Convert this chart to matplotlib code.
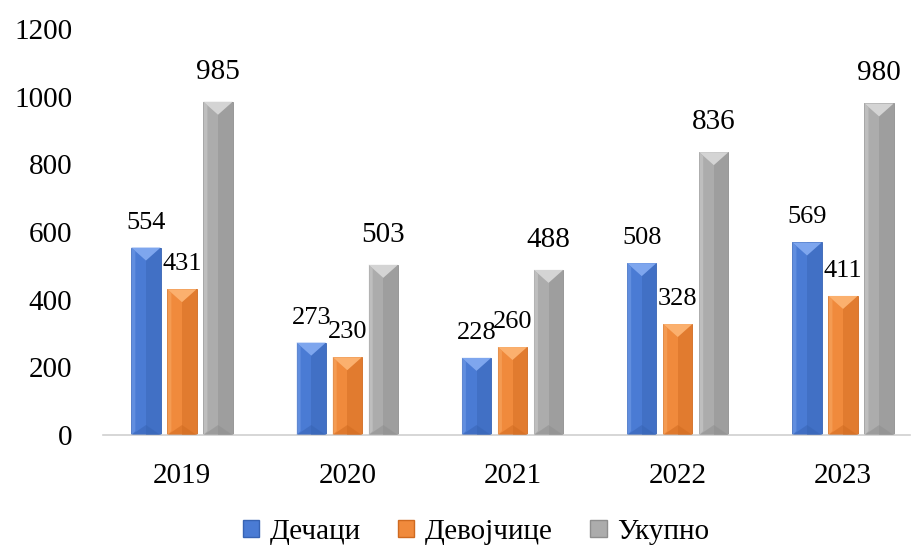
import numpy as np
import matplotlib.pyplot as plt
from matplotlib.patches import Polygon, Patch

plt.rcParams['font.family'] = ['Liberation Serif', 'DejaVu Serif']

years = ['2019', '2020', '2021', '2022', '2023']
boys = [554, 273, 228, 508, 569]
girls = [431, 230, 260, 328, 411]
total = [985, 503, 488, 836, 980]
names = ['Дечаци', 'Девојчице', 'Укупно']
colors = ['#4a7bd4', '#f08a3c', '#acacac']
lights = ['#7ea6ee', '#fbb06e', '#d4d4d4']
darks = ['#3763b3', '#cf6a20', '#8e8e8e']

fig = plt.figure(figsize=(9.11, 5.47), dpi=100)
ax = fig.add_axes([103 / 911, 1 - 435 / 547, 807 / 911, 406 / 547])

x = np.arange(len(years))
w = 0.177
step = 0.218
offs = [-step, 0, step]
ax.set_xlim(-0.478, 4.405)
ax.set_ylim(0, 1200)

# bevel sizes in data units (approx. pixels -> data)
px_x = 1 / 165.0
px_y = 1200 / 406.0


def bevel_bar(xc, h, k):
    x0, x1 = xc - w / 2, xc + w / 2
    ax.bar(xc, h, w, color=colors[k], edgecolor=darks[k], linewidth=0.6, zorder=2)
    # right darker half
    ax.add_patch(Polygon([[xc, 0], [x1, 0], [x1, h], [xc, h]],
                         closed=True, color=darks[k], alpha=0.45, lw=0, zorder=3))
    # left light strip
    ax.add_patch(Polygon([[x0, 0], [x0 + 4 * px_x, 4 * px_y],
                          [x0 + 4 * px_x, h - 4 * px_y], [x0, h]],
                         closed=True, color=lights[k], alpha=0.45, lw=0, zorder=4))
    # top light triangle
    ax.add_patch(Polygon([[x0, h], [x1, h], [xc, h - 13 * px_y]],
                         closed=True, color=lights[k], lw=0, zorder=4))
    # bottom dark wedge
    ax.add_patch(Polygon([[x0, 0], [x1, 0], [xc, 10 * px_y]],
                         closed=True, color=darks[k], alpha=0.5, lw=0, zorder=4))


for k, series in enumerate([boys, girls, total]):
    for i, v in enumerate(series):
        bevel_bar(x[i] + offs[k], v, k)
        fs = 21 if k == 2 else 19
        dy = 30 * px_y if k == 2 else 25 * px_y
        ax.text(x[i] + offs[k], v + dy, str(v), ha='center', va='center',
                fontsize=fs, zorder=5)

ax.set_xticks(x)
ax.set_xticklabels(years, fontsize=21)
ax.set_yticks(range(0, 1201, 200))
ax.tick_params(axis='y', labelsize=21, length=0, pad=22)
ax.tick_params(axis='x', length=0, pad=20)
for s in ['top', 'right', 'left']:
    ax.spines[s].set_visible(False)
ax.spines['bottom'].set_color('#d0d0d0')
ax.spines['bottom'].set_linewidth(1.2)

handles = [Patch(facecolor=colors[k], edgecolor=darks[k]) for k in range(3)]
fig.legend(handles, names, loc='center', bbox_to_anchor=(476 / 911, 1 - 532 / 547),
           ncol=3, frameon=False, fontsize=21, handlelength=0.55,
           handleheight=0.55, handletextpad=0.35, columnspacing=1.3)

fig.savefig('out.png', dpi=100)
